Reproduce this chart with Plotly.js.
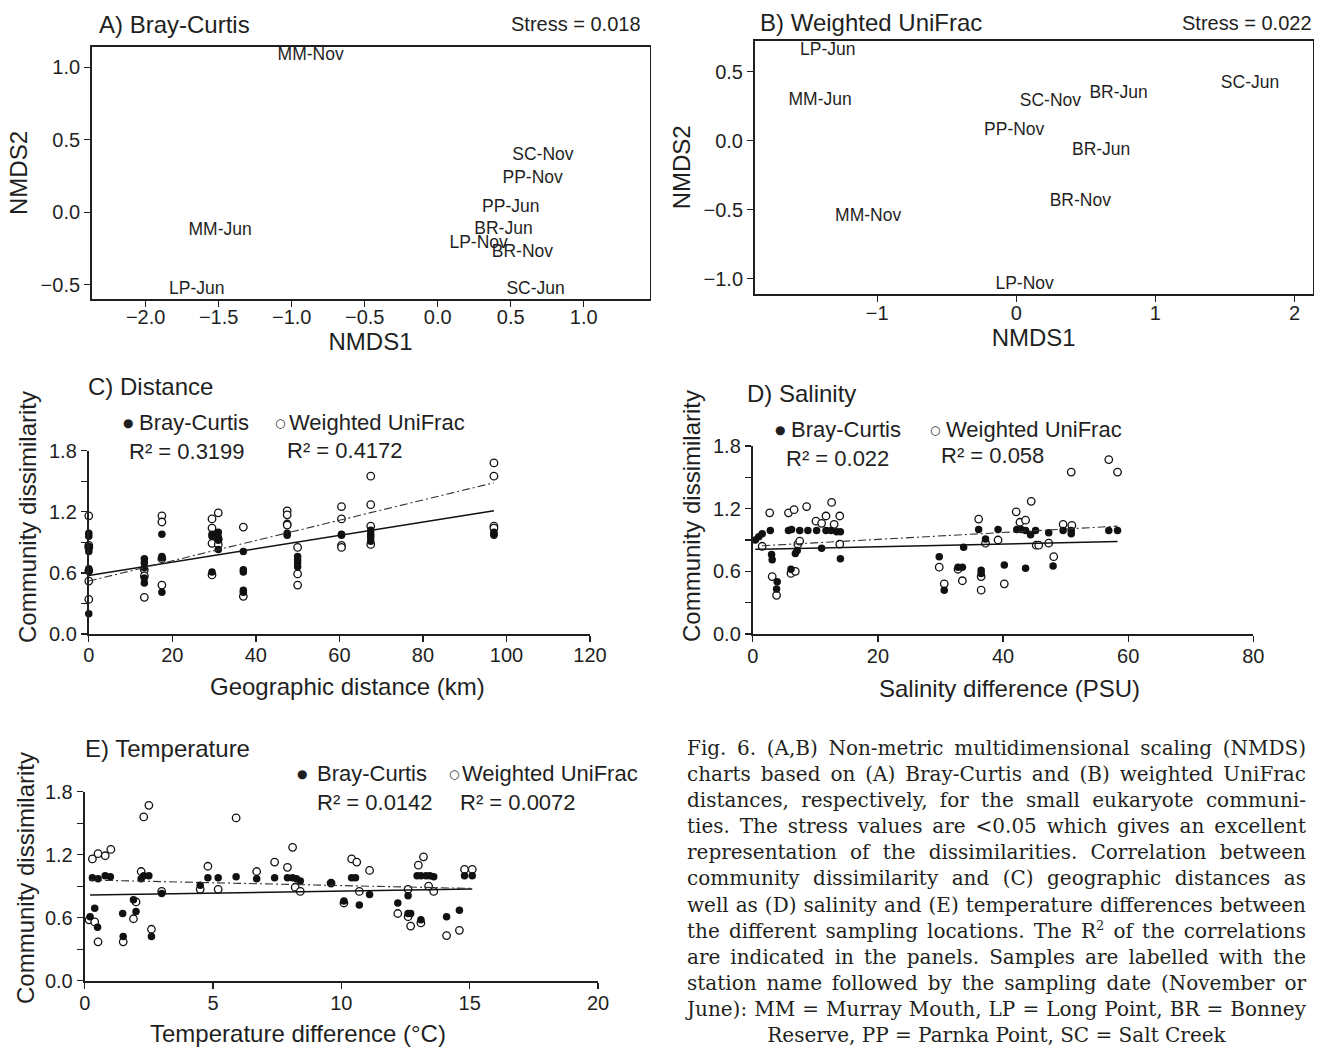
<!DOCTYPE html>
<html><head><meta charset="utf-8">
<script src="https://cdn.plot.ly/plotly-3.0.1.min.js"></script>
<style>
html,body{margin:0;padding:0;background:#fff;}
#chart{position:absolute;left:0;top:0;width:1320px;height:1048px;}
#cap{position:absolute;left:687px;top:735px;width:619px;font-family:'DejaVu Serif',serif;line-height:26.1px;color:#231f20;font-size:18px;z-index:5;}
#cap .ln{text-align:justify;text-align-last:justify;}
#cap .ln.last{text-align:center;text-align-last:center;}
#cap.measure .ln{text-align:left;text-align-last:left;}
#cap.measure .ln span{white-space:nowrap;}
</style></head><body>
<div id="chart"></div>
<div id="cap" class="measure">
<div class="ln"><span>Fig. 6. (A,B) Non-metric multidimensional scaling (NMDS)</span></div>
<div class="ln"><span>charts based on (A) Bray-Curtis and (B) weighted UniFrac</span></div>
<div class="ln"><span>distances, respectively, for the small eukaryote communi-</span></div>
<div class="ln"><span>ties. The stress values are &lt;0.05 which gives an excellent</span></div>
<div class="ln"><span>representation of the dissimilarities. Correlation between</span></div>
<div class="ln"><span>community dissimilarity and (C) geographic distances as</span></div>
<div class="ln"><span>well as (D) salinity and (E) temperature differences between</span></div>
<div class="ln"><span>the different sampling locations. The R<sup style="font-size:0.65em;line-height:0">2</sup> of the correlations</span></div>
<div class="ln"><span>are indicated in the panels. Samples are labelled with the</span></div>
<div class="ln"><span>station name followed by the sampling date (November or</span></div>
<div class="ln"><span>June): MM = Murray Mouth, LP = Long Point, BR = Bonney</span></div>
<div class="ln last"><span>Reserve, PP = Parnka Point, SC = Salt Creek</span></div>
</div>
<script>
// ---------- DATA ----------
// A) NMDS Bray-Curtis
const nmdsA_labels = ['MM-Nov','SC-Nov','PP-Nov','PP-Jun','BR-Jun','LP-Nov','BR-Nov','SC-Jun','MM-Jun','LP-Jun'];
const nmdsA_x = [-0.87, 0.72, 0.65, 0.50, 0.45, 0.28, 0.58, 0.67, -1.49, -1.65];
const nmdsA_y = [1.08, 0.39, 0.23, 0.03, -0.12, -0.22, -0.28, -0.535, -0.13, -0.535];
const stressA = 'Stress = 0.018';
// B) NMDS Weighted UniFrac
const nmdsB_labels = ['LP-Jun','MM-Jun','SC-Nov','BR-Jun','SC-Jun','PP-Nov','BR-Jun','BR-Nov','MM-Nov','LP-Nov'];
const nmdsB_x = [-1.355, -1.41, 0.245, 0.735, 1.68, -0.015, 0.61, 0.46, -1.065, 0.06];
const nmdsB_y = [0.652, 0.29, 0.283, 0.338, 0.411, 0.072, -0.075, -0.444, -0.548, -1.043];
const stressB = 'Stress = 0.022';

// C) Distance
const distBC_x = [0,0,0,0,0,0,0, 13.3,13.3,13.3,13.3,13.3, 17.5,17.5,17.5,17.5, 29.5,29.5,29.5, 31,31,31,31, 37,37,37,37,37, 47.5,47.5, 50,50,50,50, 60.5,60.5, 67.5,67.5,67.5,67.5, 97,97,97];
const distBC_y = [0.99,0.96,0.86,0.81,0.64,0.62,0.20, 0.74,0.70,0.65,0.55,0.50, 0.98,0.76,0.75,0.41, 0.98,0.96,0.61, 1.00,0.95,0.92,0.83, 0.81,0.63,0.61,0.43,0.41, 0.99,0.97, 0.76,0.73,0.70,0.66, 0.98,0.97, 1.02,0.98,0.95,0.91, 1.00,0.98,0.97];
const distWU_x = [0,0,0,0,0,0, 13.3,13.3,13.3, 17.5,17.5,17.5,17.5, 29.5,29.5,29.5,29.5, 31,31,31, 37,37, 47.5,47.5,47.5,47.5, 50,50,50, 60.5,60.5,60.5,60.5, 67.5,67.5,67.5,67.5, 97,97,97,97];
const distWU_y = [1.16,0.87,0.85,0.62,0.52,0.34, 0.63,0.57,0.36, 1.16,1.10,0.74,0.48, 1.13,1.04,0.89,0.58, 1.19,0.93,0.88, 1.05,0.37, 1.21,1.17,1.08,1.07, 0.85,0.59,0.48, 1.25,1.13,0.87,0.85, 1.55,1.27,1.06,0.88, 1.68,1.55,1.06,1.04];
const distFitBC = [0.575, 0.00655];   // intercept, slope
const distFitWU = [0.52, 0.00995];
const distR2 = ['R² = 0.3199', 'R² = 0.4172'];

// D) Salinity
const salBC_x = [0.4,0.95,1.5,2.8,3.0,3.1,3.9,3.8,5.7,6.2,7.5,6.1,6.8,7.1,8.8,10.2,11.0,11.7,12.5,13.4,14.0,14.0, 29.8,30.6,32.8,33.5,33.7,36.1,36.5,36.5,37.2,39.2,40.2,42.2,42.9,43.6,44.4,45.2,43.6,47.3,48.0,49.6,50.9,50.9,56.9,58.3];
const salBC_y = [0.90,0.93,0.96,0.99,0.76,0.71,0.50,0.43,0.99,1.00,0.99,0.62,0.77,0.80,0.99,0.99,0.82,0.99,0.99,0.98,0.98,0.72, 0.74,0.42,0.64,0.64,0.83,1.00,0.61,0.58,0.91,1.00,0.66,1.00,1.00,0.99,0.95,0.99,0.63,0.97,0.65,0.99,0.96,0.99,0.99,0.99];
const salWU_x = [1.5,2.7,3.1,3.8,5.7,6.6,6.1,6.8,7.2,7.5,8.6,10.1,11.0,11.7,12.6,13.0,13.9,13.9, 29.8,30.6,32.8,33.5,36.1,36.5,36.5,37.2,39.2,40.2,42.1,42.7,43.6,44.5,45.3,45.7,47.3,48.1,49.6,51.0,50.9,56.9,58.3];
const salWU_y = [0.84,1.16,0.55,0.37,1.16,1.19,0.58,0.60,0.86,0.89,1.22,1.08,1.06,1.13,1.26,1.05,1.13,0.86, 0.64,0.48,0.62,0.51,1.10,0.55,0.42,0.87,0.90,0.48,1.17,1.07,1.09,1.27,0.85,0.85,0.87,0.74,1.05,1.04,1.55,1.67,1.55];
const salFitBC = [0.81, 0.00128];
const salFitWU = [0.84, 0.0033];
const salR2 = ['R² = 0.022', 'R² = 0.058'];

// E) Temperature
const tmpBC_x = [0.21,0.30,0.39,0.5,0.52,0.8,1.0,1.48,1.5,1.9,2.0,2.2,2.3,2.5,2.6,3.0,4.5,4.8,5.2,5.9,6.7,7.4,7.9,8.1,8.25,8.4,9.6,10.1,10.4,10.55,10.7,11.1,12.2,12.6,12.6,12.7,12.95,13.1,13.3,13.45,13.6,13.1,14.1,14.6,14.8,15.1];
const tmpBC_y = [0.61,0.98,0.69,0.51,0.97,1.00,0.99,0.64,0.42,0.77,0.66,0.97,1.00,1.00,0.42,0.83,0.91,0.98,0.98,0.99,0.97,0.98,0.98,0.98,0.97,0.95,0.93,0.76,0.98,0.98,0.72,0.82,0.74,0.81,0.64,0.64,1.00,1.00,1.00,1.00,0.99,0.58,0.61,0.67,1.00,1.00];
const tmpWU_x = [0.17,0.3,0.39,0.52,0.52,0.8,1.02,1.5,1.9,2.0,2.2,2.3,2.5,2.6,3.0,4.5,4.8,5.2,5.9,6.7,7.4,7.9,8.1,8.2,8.4,9.6,10.1,10.4,10.6,10.7,11.1,12.2,12.6,12.6,12.7,13.0,13.2,13.1,13.4,13.6,14.1,14.6,14.8,15.1];
const tmpWU_y = [0.58,1.16,0.56,1.21,0.37,1.19,1.25,0.37,0.59,0.75,1.04,1.56,1.67,0.49,0.85,0.87,1.09,0.87,1.55,1.04,1.13,1.08,1.27,0.89,0.85,0.93,0.74,1.16,1.13,0.85,1.05,0.64,0.87,0.61,0.52,1.10,1.18,0.55,0.90,0.85,0.43,0.48,1.06,1.06];
const tmpFitBC = [0.815, 0.0038];
const tmpFitWU = [0.96, -0.0054];
const tmpR2 = ['R² = 0.0142', 'R² = 0.0072'];

const dissimTicks = [0, 0.3, 0.6, 0.9, 1.2, 1.5, 1.8];
const dissimTickText = ['0.0', '', '0.6', '', '1.2', '', '1.8'];

// ---------- LAYOUT HELPERS ----------
const W = 1320, H = 1048;
const FONT = "'Liberation Sans', Arial, Helvetica, sans-serif";
const SYMFONT = "'DejaVu Sans', sans-serif";
const INK = '#1f1f1f';
const fx = p => p / W;
const fy = p => 1 - p / H;
const domX = (a, b) => [fx(a), fx(b)];
const domY = (top, bottom) => [fy(bottom), fy(top)];

function ann(text, x, y, o) {
  o = o || {};
  return {text: text, xref: 'paper', yref: 'paper', x: fx(x), y: fy(y), showarrow: false,
    xanchor: o.xa || 'left', yanchor: 'middle', textangle: o.rot || 0,
    font: {family: o.family || FONT, size: o.size || 22, color: INK}};
}

function boxAxis(extra) {
  return Object.assign({showline: true, mirror: true, linewidth: 1.5, linecolor: INK,
    ticks: 'outside', ticklen: 6, tickwidth: 1.2, tickcolor: INK, showgrid: false, zeroline: false,
    tickfont: {family: FONT, size: 20, color: INK}}, extra);
}
function openAxis(extra) {
  return Object.assign({showline: true, mirror: false, linewidth: 2, linecolor: INK,
    ticks: 'outside', ticklen: 6, tickwidth: 1.3, tickcolor: INK, showgrid: false, zeroline: false,
    tickfont: {family: FONT, size: 20, color: INK}}, extra);
}

function labels(xs, ys, ts, xa, ya) {
  return {type: 'scatter', mode: 'text', x: xs, y: ys, text: ts, xaxis: xa, yaxis: ya,
    textposition: 'middle center', cliponaxis: false, hoverinfo: 'skip',
    textfont: {family: FONT, size: 17.5, color: INK}};
}
function pts(xs, ys, xa, ya, filled) {
  return {type: 'scatter', mode: 'markers', x: xs, y: ys, xaxis: xa, yaxis: ya, cliponaxis: false,
    marker: filled ? {size: 7.5, color: '#111', line: {width: 0}}
                   : {size: 7.5, color: '#fff', line: {width: 1.3, color: '#111'}}};
}
function fit(xs, coef, xa, ya, dashed) {
  const x0 = Math.min.apply(null, xs), x1 = Math.max.apply(null, xs);
  return {type: 'scatter', mode: 'lines', x: [x0, x1], y: [coef[0] + coef[1] * x0, coef[0] + coef[1] * x1],
    xaxis: xa, yaxis: ya, hoverinfo: 'skip',
    line: dashed ? {color: '#333', width: 1.1, dash: '8px,3px,2px,3px'} : {color: '#111', width: 1.5}};
}

const traces = [
  labels(nmdsA_x, nmdsA_y, nmdsA_labels, 'x', 'y'),
  labels(nmdsB_x, nmdsB_y, nmdsB_labels, 'x2', 'y2'),
  pts(distWU_x, distWU_y, 'x3', 'y3', false),
  pts(distBC_x, distBC_y, 'x3', 'y3', true),
  fit(distBC_x, distFitBC, 'x3', 'y3', false),
  fit(distWU_x, distFitWU, 'x3', 'y3', true),
  pts(salWU_x, salWU_y, 'x4', 'y4', false),
  pts(salBC_x, salBC_y, 'x4', 'y4', true),
  fit(salBC_x, salFitBC, 'x4', 'y4', false),
  fit(salWU_x, salFitWU, 'x4', 'y4', true),
  pts(tmpWU_x, tmpWU_y, 'x5', 'y5', false),
  pts(tmpBC_x, tmpBC_y, 'x5', 'y5', true),
  fit(tmpBC_x, tmpFitBC, 'x5', 'y5', false),
  fit(tmpWU_x, tmpFitWU, 'x5', 'y5', true)
];

const titleFont = {family: FONT, size: 24, color: INK};
const dotFilled = '●', dotOpen = '○';
const symOpt = () => ({size: 12, xa: 'center', family: SYMFONT});

const layout = {
  width: W, height: H, margin: {l: 0, r: 0, t: 0, b: 0}, showlegend: false,
  paper_bgcolor: '#fff', plot_bgcolor: 'rgba(0,0,0,0)', font: {family: FONT, color: INK},
  xaxis: boxAxis({domain: domX(91.6, 649.5), anchor: 'y', range: [-2.37, 1.45],
    tickvals: [-2, -1.5, -1, -0.5, 0, 0.5, 1], tickformat: '.1f', ticklabelstandoff: -7,
    title: {text: 'NMDS1', font: titleFont, standoff: 6}}),
  yaxis: boxAxis({domain: domY(46.7, 299.3), anchor: 'x', range: [-0.602, 1.143],
    tickvals: [-0.5, 0, 0.5, 1], tickformat: '.1f',
    title: {text: 'NMDS2', font: titleFont, standoff: 6}}),
  xaxis2: boxAxis({domain: domX(754.5, 1312.9), anchor: 'y2', range: [-1.882, 2.132],
    tickvals: [-1, 0, 1, 2], ticklabelstandoff: -6,
    title: {text: 'NMDS1', font: titleFont, standoff: 6}}),
  yaxis2: boxAxis({domain: domY(40.7, 294), anchor: 'x2', range: [-1.111, 0.725],
    tickvals: [-1, -0.5, 0, 0.5], tickformat: '.1f',
    title: {text: 'NMDS2', font: titleFont, standoff: 6}}),
  xaxis3: openAxis({domain: domX(88.8, 590), anchor: 'y3', range: [0, 120], ticklabelstandoff: -4,
    tickvals: [0, 20, 40, 60, 80, 100, 120]}),
  yaxis3: openAxis({domain: domY(450.7, 634), anchor: 'x3', range: [0, 1.8],
    tickvals: dissimTicks, ticktext: dissimTickText}),
  xaxis4: openAxis({domain: domX(752.8, 1253.3), anchor: 'y4', range: [0, 80], ticklabelstandoff: -3,
    tickvals: [0, 20, 40, 60, 80]}),
  yaxis4: openAxis({domain: domY(446, 634), anchor: 'x4', range: [0, 1.8],
    tickvals: dissimTicks, ticktext: dissimTickText}),
  xaxis5: openAxis({domain: domX(84.7, 598), anchor: 'y5', range: [0, 20], ticklabelstandoff: -3,
    tickvals: [0, 5, 10, 15, 20]}),
  yaxis5: openAxis({domain: domY(791.7, 980.7), anchor: 'x5', range: [0, 1.8],
    tickvals: dissimTicks, ticktext: dissimTickText}),
  annotations: [
    // panel A / B headers
    ann('A) Bray-Curtis', 97, 24, {size: 24}),
    ann(stressA, 643, 24, {size: 20, xa: 'right'}),
    ann('B) Weighted UniFrac', 758, 23, {size: 24}),
    ann(stressB, 1314, 23, {size: 20, xa: 'right'}),
    // panel C
    ann('C) Distance', 86, 387, {size: 24}),
    ann(dotFilled, 128, 423, symOpt()),
    ann('Bray-Curtis', 137, 422, {size: 22}),
    ann(dotOpen, 280, 423, symOpt()),
    ann('Weighted UniFrac', 287, 422, {size: 22}),
    ann(distR2[0], 127, 451, {size: 22}),
    ann(distR2[1], 285, 450, {size: 22}),
    ann('Geographic distance (km)', 348, 686, {size: 24, xa: 'center'}),
    ann('Community dissimilarity', 27, 517, {size: 24, xa: 'center', rot: -90}),
    // panel D
    ann('D) Salinity', 745, 393, {size: 24}),
    ann(dotFilled, 780, 430, symOpt()),
    ann('Bray-Curtis', 789, 429, {size: 22}),
    ann(dotOpen, 935, 430, symOpt()),
    ann('Weighted UniFrac', 944, 429, {size: 22}),
    ann(salR2[0], 784, 459, {size: 22}),
    ann(salR2[1], 939, 456, {size: 22}),
    ann('Salinity difference (PSU)', 1009, 688, {size: 24, xa: 'center'}),
    ann('Community dissimilarity', 691, 516, {size: 24, xa: 'center', rot: -90}),
    // panel E
    ann('E) Temperature', 83, 748, {size: 24}),
    ann(dotFilled, 302, 774, symOpt()),
    ann('Bray-Curtis', 315, 773, {size: 22}),
    ann(dotOpen, 454, 774, symOpt()),
    ann('Weighted UniFrac', 460, 773, {size: 22}),
    ann(tmpR2[0], 315, 802, {size: 22}),
    ann(tmpR2[1], 458, 802, {size: 22}),
    ann('Temperature difference (°C)', 298, 1033, {size: 24, xa: 'center'}),
    ann('Community dissimilarity', 25, 878, {size: 24, xa: 'center', rot: -90})
  ]
};

Plotly.newPlot('chart', traces, layout, {staticPlot: true, displayModeBar: false});

// ---------- caption fitting ----------
(function () {
  const cap = document.getElementById('cap');
  const spans = Array.from(cap.querySelectorAll('.ln span'));
  let fs = 20;
  while (fs > 12) {
    cap.style.fontSize = fs + 'px';
    const mw = Math.max.apply(null, spans.map(s => s.getBoundingClientRect().width));
    if (mw <= 617) break;
    fs -= 0.25;
  }
  cap.classList.remove('measure');
})();
</script>
</body></html>
